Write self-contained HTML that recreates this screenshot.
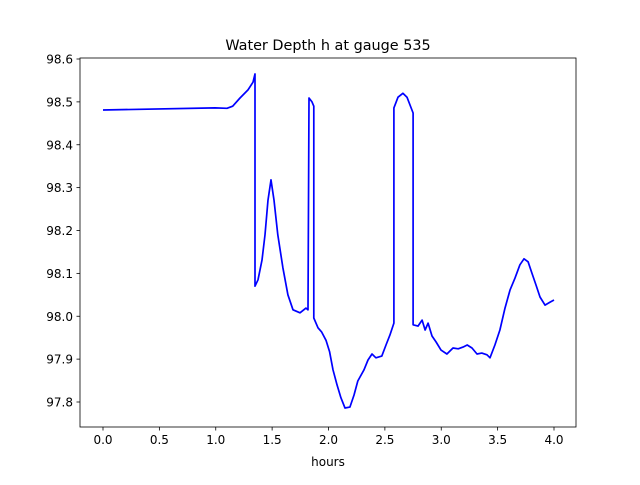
<!DOCTYPE html>
<html><head><meta charset="utf-8"><style>
body{margin:0;background:#fff;}
svg text{font-family:"DejaVu Sans","Liberation Sans",sans-serif;fill:#000;}
</style></head><body>
<svg id="chart" width="640" height="480" xmlns="http://www.w3.org/2000/svg">
<rect width="640" height="480" fill="#fff"/>
<text x="328" y="50" font-size="14.4" text-anchor="middle">Water Depth h at gauge 535</text>
<text x="328" y="466" font-size="12" text-anchor="middle">hours</text>
<g id="ticks"></g>
<polyline id="series" fill="none" stroke="#0000ff" stroke-width="1.7" stroke-linejoin="round"/>
<rect x="80" y="58" width="496" height="369" fill="none" stroke="#000" stroke-width="0.8"/>
</svg>
<script>
const hours=[0,0.993,1.1,1.15,1.215,1.286,1.33,1.348,1.348,1.375,1.41,1.437,1.463,1.49,1.517,1.55,1.596,1.64,1.685,1.747,1.8,1.818,1.827,1.854,1.87,1.87,1.907,1.94,1.978,2.01,2.04,2.075,2.11,2.146,2.19,2.226,2.26,2.315,2.35,2.386,2.42,2.473,2.51,2.545,2.58,2.58,2.616,2.66,2.696,2.75,2.75,2.794,2.83,2.857,2.883,2.918,2.954,2.998,3.05,3.104,3.15,3.193,3.23,3.273,3.317,3.36,3.406,3.432,3.476,3.52,3.565,3.61,3.654,3.698,3.734,3.77,3.805,3.84,3.876,3.92,3.965,4.0];
const depth=[98.481,98.486,98.485,98.49,98.509,98.528,98.546,98.565,98.07,98.085,98.131,98.19,98.271,98.318,98.271,98.19,98.113,98.05,98.015,98.008,98.019,98.015,98.509,98.5,98.49,97.996,97.973,97.963,97.944,97.917,97.875,97.84,97.81,97.786,97.788,97.816,97.849,97.875,97.898,97.912,97.903,97.907,97.933,97.956,97.984,98.486,98.511,98.52,98.511,98.474,97.98,97.977,97.991,97.968,97.984,97.954,97.94,97.921,97.912,97.926,97.924,97.928,97.933,97.926,97.912,97.914,97.91,97.903,97.933,97.968,98.019,98.061,98.089,98.12,98.134,98.127,98.1,98.073,98.045,98.026,98.033,98.038];
const xTicks=["0.0","0.5","1.0","1.5","2.0","2.5","3.0","3.5","4.0"];
const yTicks=["97.8","97.9","98.0","98.1","98.2","98.3","98.4","98.5","98.6"];
const X=v=>103+v*112.75;
const Y=v=>59+(98.6-v)*428.75;
const ns="http://www.w3.org/2000/svg";
const g=document.getElementById('ticks');
function mk(t,a){const e=document.createElementNS(ns,t);for(const k in a)e.setAttribute(k,a[k]);g.appendChild(e);return e;}
xTicks.forEach(t=>{const x=X(parseFloat(t));
const l=mk('line',{x1:x,x2:x,y1:427,y2:430.5,stroke:'#000','stroke-width':0.8});


const tx=mk('text',{x:x,y:444,'font-size':12,'text-anchor':'middle'});tx.textContent=t;

});
yTicks.forEach(t=>{const y=Y(parseFloat(t));
const l=mk('line',{x1:76.5,x2:80,y1:y,y2:y,stroke:'#000','stroke-width':0.8});


const tx=mk('text',{x:73,y:y+4.5,'font-size':12,'text-anchor':'end'});tx.textContent=t;

});
document.getElementById('series').setAttribute('points',hours.map((h,i)=>X(h).toFixed(1)+','+Y(depth[i]).toFixed(1)).join(' '));
</script>
</body></html>
